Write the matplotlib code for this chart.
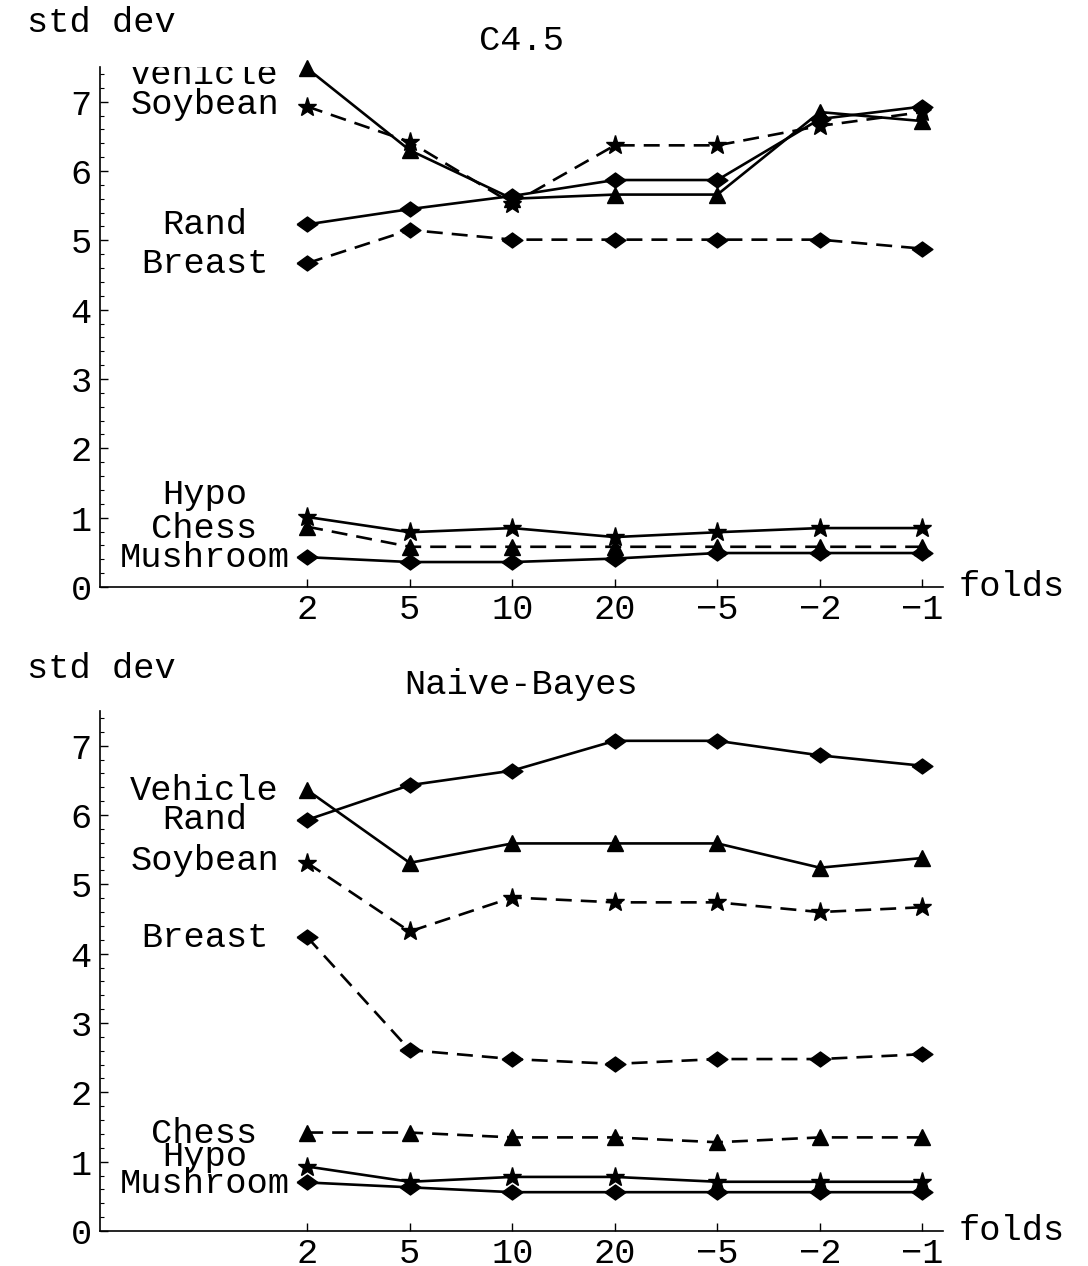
import matplotlib
matplotlib.use("Agg")
import matplotlib.pyplot as plt
from matplotlib.ticker import MultipleLocator
import numpy as np

plt.rcParams['font.family'] = ['Liberation Mono', 'DejaVu Sans Mono']
plt.rcParams['lines.scale_dashes'] = False

folds = ["2", "5", "10", "20", "\u22125", "\u22122", "\u22121"]
datasets = ["Vehicle", "Soybean", "Rand", "Breast", "Hypo", "Chess", "Mushroom"]

# C4.5 standard deviations
c45_vehicle = [7.48, 6.30, 5.60, 5.66, 5.66, 6.85, 6.72]
c45_soybean = [6.93, 6.42, 5.53, 6.37, 6.37, 6.65, 6.85]
c45_rand = [5.23, 5.45, 5.64, 5.87, 5.87, 6.75, 6.93]
c45_breast = [4.67, 5.15, 5.01, 5.01, 5.01, 5.01, 4.88]
c45_hypo = [1.01, 0.79, 0.85, 0.72, 0.79, 0.85, 0.85]
c45_chess = [0.87, 0.58, 0.58, 0.58, 0.58, 0.58, 0.58]
c45_mushroom = [0.43, 0.36, 0.36, 0.41, 0.49, 0.49, 0.49]

# Naive-Bayes standard deviations
nb_vehicle = [6.36, 5.31, 5.59, 5.59, 5.59, 5.24, 5.38]
nb_rand = [5.93, 6.43, 6.64, 7.07, 7.07, 6.86, 6.71]
nb_soybean = [5.31, 4.32, 4.81, 4.74, 4.74, 4.60, 4.67]
nb_breast = [4.24, 2.61, 2.48, 2.41, 2.48, 2.48, 2.55]
nb_chess = [1.42, 1.42, 1.35, 1.35, 1.28, 1.35, 1.35]
nb_hypo = [0.93, 0.71, 0.78, 0.78, 0.71, 0.71, 0.71]
nb_mushroom = [0.70, 0.63, 0.56, 0.56, 0.56, 0.56, 0.56]

# label vertical positions (value units) next to the first point
c45_label_y = [7.39, 6.96, 5.23, 4.67, 1.34, 0.85, 0.42]
nb_label_y = [6.35, 5.93, 5.34, 4.24, 1.40, 1.07, 0.69]

diamond = [(-1, 0), (0, 0.72), (1, 0), (0, -0.72), (-1, 0)]
styles = {
    "Vehicle": ("-", "^"),
    "Soybean": ("--", "*"),
    "Rand": ("-", diamond),
    "Breast": ("--", diamond),
    "Hypo": ("-", "*"),
    "Chess": ("--", "^"),
    "Mushroom": ("-", diamond),
}
msize = {"^": 11, "*": 14}

fig = plt.figure(figsize=(10.88, 12.66), dpi=100)
FS = 25.5

def draw(ax, series, labels, label_y, title):
    x = np.arange(len(folds))
    for name in labels:
        ls, mk = styles[name]
        ms = msize.get(mk, 15) if isinstance(mk, str) else 15
        linestyle = (0, (11.5, 6.5)) if ls == "--" else "-"
        ax.plot(x, series[name], color="black", lw=1.9, linestyle=linestyle,
                marker=mk, markersize=ms, markerfacecolor="black",
                markeredgecolor="black", clip_on=False, zorder=3)
    for name, ly in zip(labels, label_y):
        ax.text(-1.0, ly, name, ha="center", va="center", fontsize=FS,
                clip_on=True)
    ax.set_xlim(-2.02, 6.2)
    ax.set_ylim(0, 7.5)
    ax.set_xticks(x)
    ax.set_xticklabels(folds)
    ax.yaxis.set_major_locator(MultipleLocator(1))
    ax.yaxis.set_minor_locator(MultipleLocator(0.2))
    ax.tick_params(axis="both", which="major", direction="in", length=6,
                   width=1, labelsize=FS)
    ax.tick_params(axis="x", which="major", pad=4)
    ax.tick_params(axis="y", which="major", pad=6)
    ax.tick_params(axis="y", which="minor", direction="in", length=3, width=0.8)
    ax.tick_params(axis="x", which="minor", bottom=False)
    for s in ["top", "right"]:
        ax.spines[s].set_visible(False)
    for s in ["left", "bottom"]:
        ax.spines[s].set_linewidth(1.2)
    ax.text(0.5, 1.02, title, transform=ax.transAxes, ha="center",
            va="bottom", fontsize=FS)
    ax.text(6.35, 0, "folds", ha="left", va="center", fontsize=FS,
            clip_on=False)

ax1 = fig.add_axes([100 / 1088, 1 - 587 / 1266, 843 / 1088, 520 / 1266])
ax2 = fig.add_axes([100 / 1088, 1 - 1231 / 1266, 843 / 1088, 520 / 1266])

c45 = {"Vehicle": c45_vehicle, "Soybean": c45_soybean, "Rand": c45_rand,
       "Breast": c45_breast, "Hypo": c45_hypo, "Chess": c45_chess,
       "Mushroom": c45_mushroom}
nb = {"Vehicle": nb_vehicle, "Rand": nb_rand, "Soybean": nb_soybean,
      "Breast": nb_breast, "Chess": nb_chess, "Hypo": nb_hypo,
      "Mushroom": nb_mushroom}

draw(ax1, c45, ["Vehicle", "Soybean", "Rand", "Breast", "Hypo", "Chess", "Mushroom"],
     c45_label_y, "C4.5")
draw(ax2, nb, ["Vehicle", "Rand", "Soybean", "Breast", "Chess", "Hypo", "Mushroom"],
     nb_label_y, "Naive-Bayes")

fig.text(27 / 1088, 1 - 22 / 1266, "std dev", ha="left", va="center", fontsize=FS)
fig.text(27 / 1088, 1 - 668 / 1266, "std dev", ha="left", va="center", fontsize=FS)

fig.savefig("out.png", dpi=100)
